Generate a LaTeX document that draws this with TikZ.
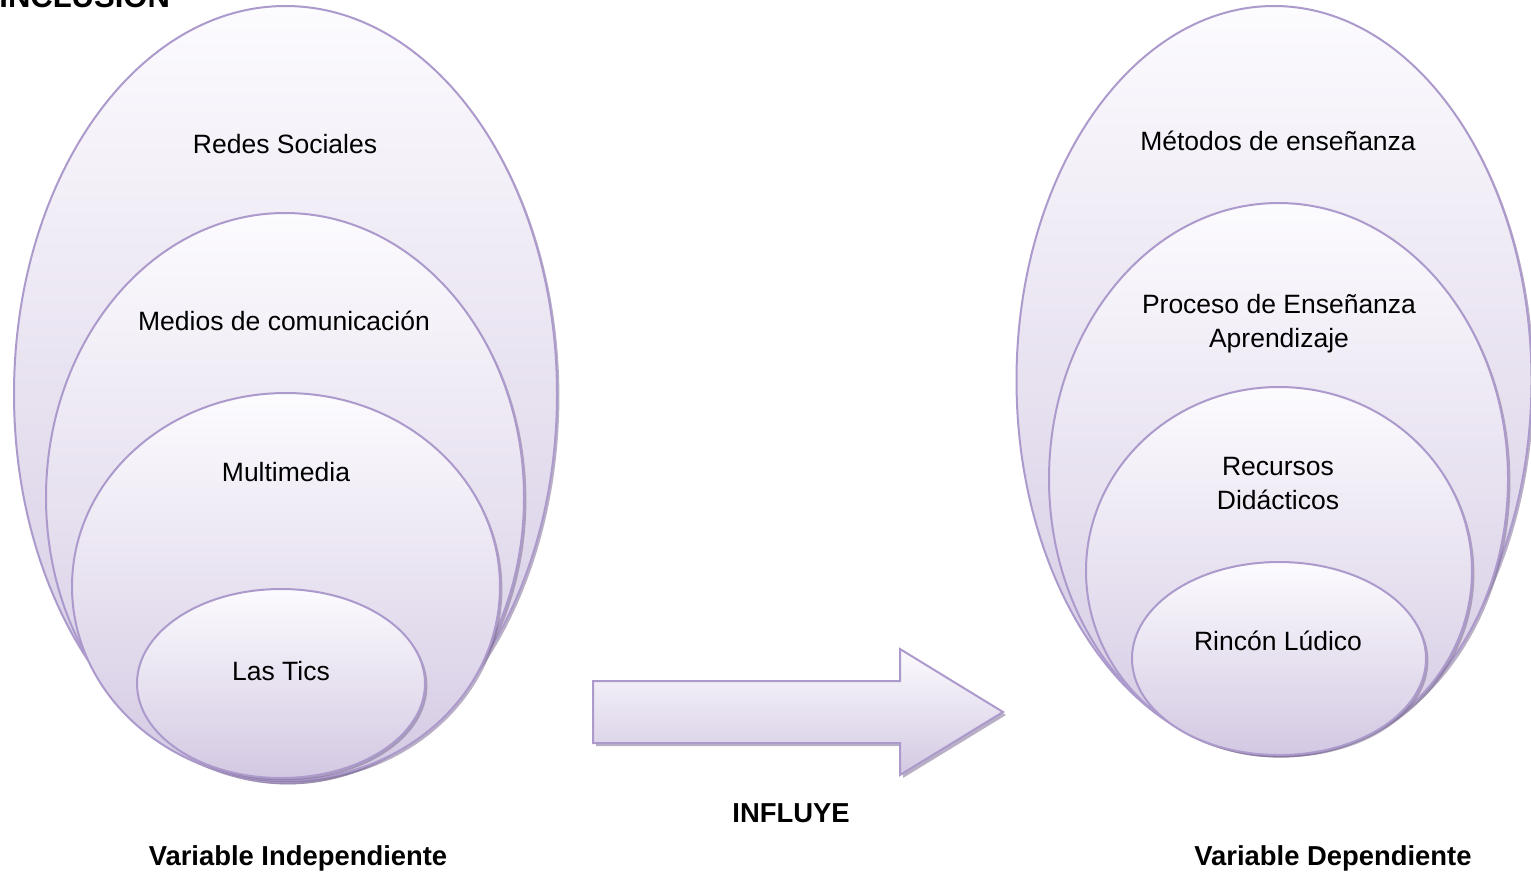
\documentclass[tikz,border=0pt]{standalone}
\usepackage{fontspec}
\setmainfont{Liberation Sans}
\usetikzlibrary{shapes.geometric,shadows}

\definecolor{lila}{RGB}{172,154,204}
\definecolor{lilaclaro}{RGB}{211,200,226}
\definecolor{casiblanco}{RGB}{252,251,254}
\definecolor{sombra}{RGB}{128,112,150}

\tikzset{
    capa/.style={ellipse, draw=lila, line width=1pt, inner sep=0pt,
        top color=casiblanco, bottom color=lilaclaro,
        drop shadow={shadow xshift=1.2pt, shadow yshift=-1.2pt,
            fill=sombra, opacity=0.55}},
    lbl/.style={font=\fontsize{13.25pt}{17pt}\selectfont, align=center},
    rotulo/.style={font=\fontsize{13.7pt}{17pt}\selectfont\bfseries}
}

\begin{document}
\begin{tikzpicture}[x=0.5pt, y=-0.5pt]
    \useasboundingbox (0,0) rectangle (1531,875);

    % Titulo (cortado arriba)
    \node[font=\fontsize{15.5pt}{18pt}\selectfont\bfseries, anchor=base west, inner sep=0pt]
        (titulo) at (-1,7.5) {INCLUSIÓN};

    % Variable independiente
    \node[capa, minimum width=271.5pt, minimum height=388pt] (redesE) at (285.5,394) {};
    \node[capa, minimum width=239pt, minimum height=284.5pt] (mediosE) at (285,497.5) {};
    \node[capa, minimum width=214pt, minimum height=193.5pt] (multiE) at (286,586.5) {};
    \node[capa, minimum width=144pt, minimum height=94.5pt] (ticsE) at (281,683.5) {};

    \node[lbl] (redes) at (285,144) {Redes Sociales};
    \node[lbl] (medios) at (284,321) {Medios de comunicación};
    \node[lbl] (multi) at (286,472) {Multimedia};
    \node[lbl] (tics) at (281,671) {Las Tics};

    % Variable dependiente
    \node[capa, minimum width=257.5pt, minimum height=374.5pt] (metE) at (1274,380.5) {};
    \node[capa, minimum width=229.5pt, minimum height=276pt] (procE) at (1278.5,479) {};
    \node[capa, minimum width=193pt, minimum height=184pt] (recE) at (1279,571) {};
    \node[capa, minimum width=147pt, minimum height=96.5pt] (rinE) at (1279,658.5) {};

    \node[lbl] (metodos) at (1278,141) {Métodos de enseñanza};
    \node[lbl] (proceso) at (1279,324) {Proceso de Enseñanza\\Aprendizaje};
    \node[lbl] (recursos) at (1278,483) {Recursos\\Didácticos};
    \node[lbl] (rincon) at (1278,641) {Rincón Lúdico};

    % Flecha
    \path[draw=lila, line width=1pt, top color=casiblanco, bottom color=lilaclaro,
        drop shadow={shadow xshift=1.5pt, shadow yshift=-1.5pt, fill=sombra, opacity=0.55}]
        (593,681) -- (900,681) -- (900,649) -- (1003,712) -- (900,775)
        -- (900,743) -- (593,743) -- cycle;

    \node[rotulo] (influye) at (791,813) {INFLUYE};
    \node[rotulo] (vind) at (298,858) {Variable Independiente};
    \node[rotulo] (vdep) at (1333,858) {Variable Dependiente};
\end{tikzpicture}
\end{document}
